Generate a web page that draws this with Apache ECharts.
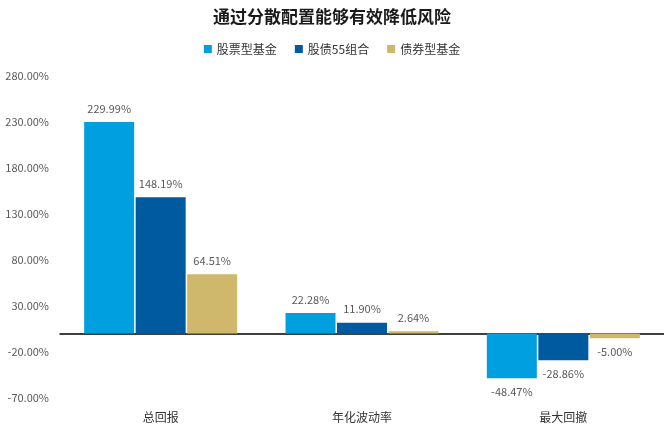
<!DOCTYPE html>
<html><head><meta charset="utf-8">
<script src="https://cdn.jsdelivr.net/npm/echarts@6/dist/echarts.min.js"></script>
<style>html,body{margin:0;padding:0;background:#fff}#c{width:664px;height:427px}</style>
</head><body><div id="c"></div>
<script>
const categories = ['总回报', '年化波动率', '最大回撤'];
const seriesNames = ['股票型基金', '股债55组合', '债券型基金'];
const stockFund = [229.99, 22.28, -48.47];
const mixFund = [148.19, 11.90, -28.86];
const bondFund = [64.51, 2.64, -5.00];
const colors = ['#009FE0', '#005AA0', '#CFB86B'];
const font = '"Noto Sans CJK SC", sans-serif';

const chart = echarts.init(document.getElementById('c'));
const values = [stockFund, mixFund, bondFund];
chart.setOption({
  animation: false,
  title: { text: '通过分散配置能够有效降低风险', left: 'center', top: 3,
    textStyle: { fontSize: 17, fontWeight: 'bold', color: '#1a1a1a', fontFamily: font } },
  legend: { top: 38, left: 'center', itemWidth: 8, itemHeight: 8, itemGap: 18,
    icon: 'rect',
    textStyle: { fontSize: 12, color: '#333', fontFamily: font },
    data: seriesNames },
  grid: { left: 60, right: 0, top: 76, bottom: 29 },
  xAxis: [
    { type: 'category', data: categories, position: 'bottom',
      axisLine: { show: false, onZero: false }, axisTick: { show: false },
      axisLabel: { color: '#333', fontSize: 12, fontFamily: font, margin: 13 } },
    { type: 'category', data: categories, position: 'bottom',
      axisLine: { show: true, onZero: true, lineStyle: { color: '#000', width: 1.5 } },
      axisTick: { show: false }, axisLabel: { show: false } }
  ],
  yAxis: { type: 'value', min: -70, max: 280, interval: 50,
    splitLine: { show: false }, axisLine: { show: false }, axisTick: { show: false },
    axisLabel: { color: '#595959', fontSize: 11, fontFamily: font, margin: 11,
      formatter: v => v.toFixed(2) + '%' } },
  series: seriesNames.map((n, i) => ({
    name: n, type: 'bar', barWidth: 50, barGap: '3%',
    itemStyle: { color: colors[i] },
    label: { show: true, distance: 8, color: '#595959', fontSize: 11, fontFamily: font,
      formatter: p => p.value.toFixed(2) + '%' },
    data: values[i].map(v => ({ value: v, label: { position: v < 0 ? 'bottom' : 'top' } }))
  }))
});
</script></body></html>
